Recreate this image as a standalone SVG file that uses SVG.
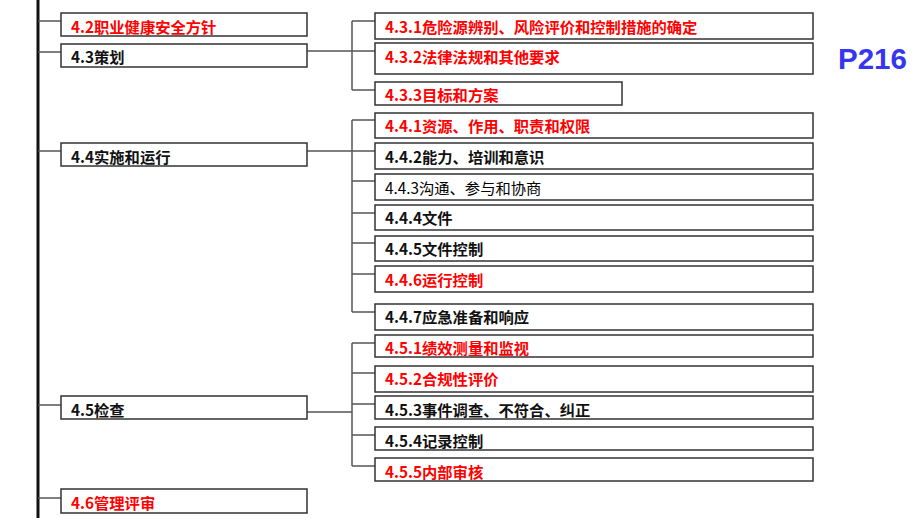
<svg xmlns="http://www.w3.org/2000/svg" width="920" height="518" viewBox="0 0 920 518">
<style>
.box{fill:#fff;stroke:#333;stroke-width:1.5}
.t{font-family:"Noto Sans CJK SC","Noto Sans",sans-serif;font-size:15.3px;font-weight:bold;fill:#111}
.r{fill:#ff0000}
.n{font-weight:normal;fill:#000}
.c{fill:none;stroke:#555;stroke-width:1.5}
</style>
<rect width="920" height="518" fill="#fff"/>
<g id="connectors">
<line x1="38" y1="0" x2="38" y2="518" stroke="#111" stroke-width="3"/>
<path class="c" d="M38 21H61M38 52H61M38 151H61M38 405H61M38 498H61"/>
<path class="c" d="M307 51H352M352 21V90M352 21H375M352 51H375M352 90H375"/>
<path class="c" d="M307 151H352M352 120V312M352 120H375M352 151H375M352 181H375M352 213H375M352 243H375M352 274H375M352 312H375"/>
<path class="c" d="M307 412H352M352 343V466M352 343H375M352 373H375M352 404H375M352 435H375M352 466H375"/>
</g>
<g id="n42"><rect class="box" x="61" y="13" width="246" height="23"/><text class="t r" x="71" y="33">4.2职业健康安全方针</text></g>
<g id="n43"><rect class="box" x="61" y="44" width="246" height="23"/><text class="t" x="71" y="63">4.3策划</text></g>
<g id="n44"><rect class="box" x="61" y="143" width="246" height="23"/><text class="t" x="71" y="163">4.4实施和运行</text></g>
<g id="n45"><rect class="box" x="61" y="396" width="246" height="23"/><text class="t" x="71" y="416">4.5检查</text></g>
<g id="n46"><rect class="box" x="61" y="489" width="246" height="24"/><text class="t r" x="71" y="509">4.6管理评审</text></g>

<g id="n431"><rect class="box" x="375" y="13" width="438" height="26"/><text class="t r" x="385" y="33">4.3.1危险源辨别、风险评价和控制措施的确定</text></g>
<g id="n432"><rect class="box" x="375" y="43" width="438" height="31"/><text class="t r" x="385" y="63">4.3.2法律法规和其他要求</text></g>
<g id="n433"><rect class="box" x="375" y="82" width="247" height="23"/><text class="t r" x="385" y="101">4.3.3目标和方案</text></g>

<g id="n441"><rect class="box" x="375" y="113" width="438" height="25"/><text class="t r" x="385" y="132">4.4.1资源、作用、职责和权限</text></g>
<g id="n442"><rect class="box" x="375" y="143" width="438" height="26"/><text class="t" x="385" y="163">4.4.2能力、培训和意识</text></g>
<g id="n443"><rect class="box" x="375" y="174" width="438" height="26"/><text class="t n" x="385" y="194">4.4.3沟通、参与和协商</text></g>
<g id="n444"><rect class="box" x="375" y="205" width="438" height="25"/><text class="t" x="385" y="224">4.4.4文件</text></g>
<g id="n445"><rect class="box" x="375" y="236" width="438" height="25"/><text class="t" x="385" y="255">4.4.5文件控制</text></g>
<g id="n446"><rect class="box" x="375" y="266" width="438" height="26"/><text class="t r" x="385" y="286">4.4.6运行控制</text></g>
<g id="n447"><rect class="box" x="375" y="304" width="438" height="26"/><text class="t" x="385" y="323">4.4.7应急准备和响应</text></g>

<g id="n451"><rect class="box" x="375" y="335" width="438" height="22"/><text class="t r" x="385" y="354">4.5.1绩效测量和监视</text></g>
<g id="n452"><rect class="box" x="375" y="366" width="438" height="26"/><text class="t r" x="385" y="385">4.5.2合规性评价</text></g>
<g id="n453"><rect class="box" x="375" y="396" width="438" height="23"/><text class="t" x="385" y="416">4.5.3事件调查、不符合、纠正</text></g>
<g id="n454"><rect class="box" x="375" y="427" width="438" height="23"/><text class="t" x="385" y="447">4.5.4记录控制</text></g>
<g id="n455"><rect class="box" x="375" y="458" width="438" height="23"/><text class="t r" x="385" y="478">4.5.5内部审核</text></g>

<text x="838" y="69" font-family="Liberation Sans,Arial,sans-serif" font-size="29.5" font-weight="bold" fill="#3636ee">P216</text>
</svg>
